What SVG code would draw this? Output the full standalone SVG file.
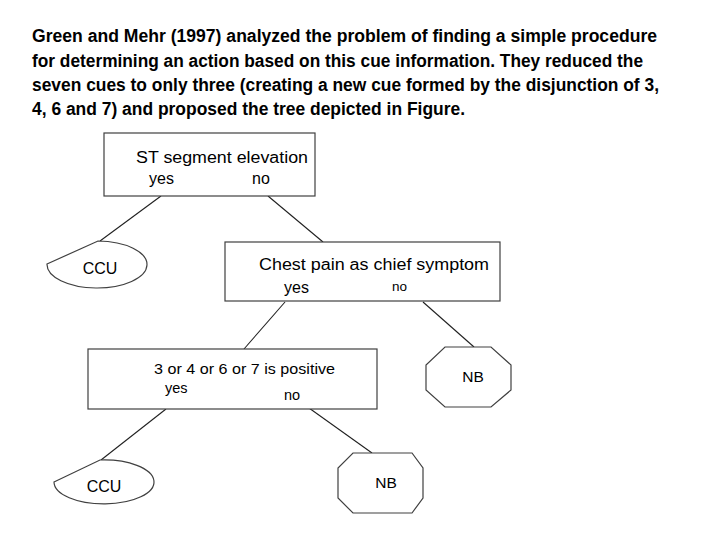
<svg xmlns="http://www.w3.org/2000/svg" width="720" height="540" viewBox="0 0 720 540">
<style>
.hdr{font-family:"Liberation Sans",Arial,sans-serif;font-weight:bold;font-size:17.5px;fill:#000}
.t{font-family:"Liberation Sans",Arial,sans-serif;fill:#000}
.box{fill:#fff;stroke:#404040;stroke-width:1.2}
.ln{stroke:#202020;stroke-width:1.1;fill:none}
</style>
<rect width="720" height="540" fill="#fff"/>
<g id="header">
<text class="hdr" x="32" y="42" textLength="625" lengthAdjust="spacingAndGlyphs">Green and Mehr (1997) analyzed the problem of finding a simple procedure</text>
<text class="hdr" x="32" y="66.5" textLength="611" lengthAdjust="spacingAndGlyphs">for determining an action based on this cue information. They reduced the</text>
<text class="hdr" x="32" y="90.5" textLength="627" lengthAdjust="spacingAndGlyphs">seven cues to only three (creating a new cue formed by the disjunction of 3,</text>
<text class="hdr" x="32" y="115" textLength="433" lengthAdjust="spacingAndGlyphs">4, 6 and 7) and proposed the tree depicted in Figure.</text>
</g>
<g id="connectors">
<line class="ln" x1="161" y1="196" x2="100" y2="241"/>
<line class="ln" x1="268" y1="196" x2="323" y2="242"/>
<line class="ln" x1="285" y1="302" x2="244" y2="349"/>
<line class="ln" x1="423" y1="302" x2="474" y2="347"/>
<line class="ln" x1="166" y1="409" x2="101" y2="460"/>
<line class="ln" x1="309" y1="408" x2="372" y2="453"/>
</g>
<g id="st">
<rect class="box" x="104" y="133" width="211" height="63"/>
<text class="t" x="136" y="163" font-size="16" textLength="172" lengthAdjust="spacingAndGlyphs">ST segment elevation</text>
<text class="t" x="149" y="184" font-size="16">yes</text>
<text class="t" x="252" y="184" font-size="16">no</text>
</g>
<g id="ccu1">
<path class="box" d="M47,264 L98,241 A50,23.5 0 1 1 47,264 Z"/>
<text class="t" x="100" y="274" font-size="16" text-anchor="middle">CCU</text>
</g>
<g id="chest">
<rect class="box" x="225" y="242" width="275" height="59"/>
<text class="t" x="259" y="270" font-size="16" textLength="230" lengthAdjust="spacingAndGlyphs">Chest pain as chief symptom</text>
<text class="t" x="284" y="293" font-size="16">yes</text>
<text class="t" x="392" y="291" font-size="13.5">no</text>
</g>
<g id="cues">
<rect class="box" x="88" y="349" width="289" height="60"/>
<text class="t" x="154" y="374" font-size="14.5" textLength="181" lengthAdjust="spacingAndGlyphs">3 or 4 or 6 or 7 is positive</text>
<text class="t" x="165" y="393" font-size="14.5">yes</text>
<text class="t" x="284" y="400" font-size="14.5">no</text>
</g>
<g id="nb1">
<polygon class="box" points="445,347 491,347 511,365 511,390 491,407 445,407 426,390 426,365"/>
<text class="t" x="473" y="382" font-size="15.5" text-anchor="middle">NB</text>
</g>
<g id="ccu2">
<path class="box" d="M54,482 L100,460 A50,22 0 1 1 54,482 Z"/>
<text class="t" x="104" y="492" font-size="16" text-anchor="middle">CCU</text>
</g>
<g id="nb2">
<polygon class="box" points="353,453 412,453 423,468 423,498 412,513 353,513 338,498 338,468"/>
<text class="t" x="386" y="488" font-size="15.5" text-anchor="middle">NB</text>
</g>
</svg>
